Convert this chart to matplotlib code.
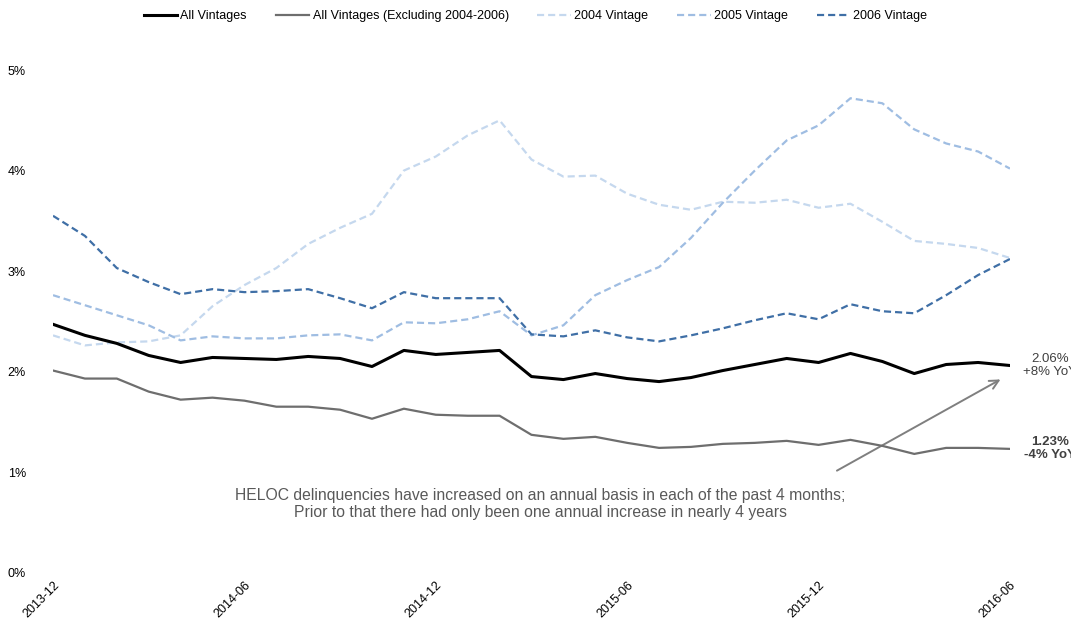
import numpy as np
import matplotlib.pyplot as plt

plt.rcParams['font.family'] = ['Liberation Sans', 'DejaVu Sans']

# monthly series, 2013-12 .. 2016-06 (percent 90+ dpd)
months = ['2013-12', '2014-01', '2014-02', '2014-03', '2014-04', '2014-05', '2014-06',
          '2014-07', '2014-08', '2014-09', '2014-10', '2014-11', '2014-12',
          '2015-01', '2015-02', '2015-03', '2015-04', '2015-05', '2015-06',
          '2015-07', '2015-08', '2015-09', '2015-10', '2015-11', '2015-12',
          '2016-01', '2016-02', '2016-03', '2016-04', '2016-05', '2016-06']

all_vintages = [2.47, 2.36, 2.28, 2.16, 2.09, 2.14, 2.13, 2.12, 2.15, 2.13, 2.05,
                2.21, 2.17, 2.19, 2.21, 1.95, 1.92, 1.98, 1.93, 1.90, 1.94,
                2.01, 2.07, 2.13, 2.09, 2.18, 2.10, 1.98, 2.07, 2.09, 2.06]
all_ex = [2.01, 1.93, 1.93, 1.80, 1.72, 1.74, 1.71, 1.65, 1.65, 1.62, 1.53,
          1.63, 1.57, 1.56, 1.56, 1.37, 1.33, 1.35, 1.29, 1.24, 1.25,
          1.28, 1.29, 1.31, 1.27, 1.32, 1.26, 1.18, 1.24, 1.24, 1.23]
v2004 = [2.36, 2.26, 2.29, 2.30, 2.36, 2.65, 2.86, 3.03, 3.27, 3.43, 3.57,
         4.00, 4.14, 4.35, 4.50, 4.11, 3.94, 3.95, 3.77, 3.66, 3.61,
         3.69, 3.68, 3.71, 3.63, 3.67, 3.49, 3.30, 3.27, 3.23, 3.13]
v2005 = [2.76, 2.66, 2.56, 2.46, 2.31, 2.35, 2.33, 2.33, 2.36, 2.37, 2.31,
         2.49, 2.48, 2.52, 2.60, 2.36, 2.46, 2.76, 2.91, 3.04, 3.33,
         3.68, 4.00, 4.30, 4.45, 4.72, 4.67, 4.41, 4.27, 4.19, 4.02]
v2006 = [3.55, 3.35, 3.03, 2.89, 2.77, 2.82, 2.79, 2.80, 2.82, 2.73, 2.63,
         2.79, 2.73, 2.73, 2.73, 2.37, 2.35, 2.41, 2.34, 2.30, 2.36,
         2.43, 2.51, 2.58, 2.52, 2.67, 2.60, 2.58, 2.76, 2.96, 3.12]

last_all = '2.06%\n+8% YoY'
last_ex = '1.23%\n-4% YoY'
note = ('HELOC delinquencies have increased on an annual basis in each of the past 4 months;\n'
        'Prior to that there had only been one annual increase in nearly 4 years')

x = np.arange(len(months))

fig = plt.figure(figsize=(10.71, 6.26), dpi=100)
ax = fig.add_axes([0.0495, 0.0855, 0.8935, 0.8025])

dash = (0, (3.2, 1.8))
ax.plot(x, all_vintages, color='black', lw=2.2, label='All Vintages', zorder=5)
ax.plot(x, all_ex, color='#6e6e6e', lw=1.6, label='All Vintages (Excluding 2004-2006)', zorder=4)
ax.plot(x, v2004, color='#c5d8ee', lw=1.6, ls=dash, label='2004 Vintage')
ax.plot(x, v2005, color='#9fbde2', lw=1.6, ls=dash, label='2005 Vintage')
ax.plot(x, v2006, color='#3f6fa6', lw=1.6, ls=dash, label='2006 Vintage')

ax.set_xlim(0, len(months) - 1)
ax.set_ylim(0, 5)
ax.set_yticks(np.arange(0, 6))
ax.set_yticklabels([f'{v}%' for v in range(6)])
ax.set_xticks(x[::6])
ax.set_xticklabels(months[::6], rotation=45, ha='right', rotation_mode='anchor')
ax.tick_params(axis='both', length=0, labelsize=9)
ax.tick_params(axis='y', pad=19.5)
ax.tick_params(axis='x', pad=5)
for s in ax.spines.values():
    s.set_visible(False)

# end-of-series labels (run past the right edge)
ax.text(31.25, all_vintages[-1], last_all, ha='center', va='center', fontsize=9.5,
        color='#404040', linespacing=1.1, clip_on=False)
ax.text(31.25, all_ex[-1], last_ex, ha='center', va='center', fontsize=9.5,
        color='#404040', fontweight='bold', linespacing=1.1, clip_on=False)

ax.annotate('', xy=(29.78, 1.935), xytext=(24.5, 1.0),
            arrowprops=dict(arrowstyle='->', color='#7f7f7f', lw=1.4, mutation_scale=16))
ax.text(15.27, 0.68, note, ha='center', va='center', fontsize=11.3, color='#595959',
        linespacing=1.15)

fig.legend(loc='center', bbox_to_anchor=(0.5, 0.974), ncol=5, frameon=False,
           fontsize=9, handlelength=2.7, handletextpad=0.25, columnspacing=2.3)

fig.savefig('out.png', dpi=100)
